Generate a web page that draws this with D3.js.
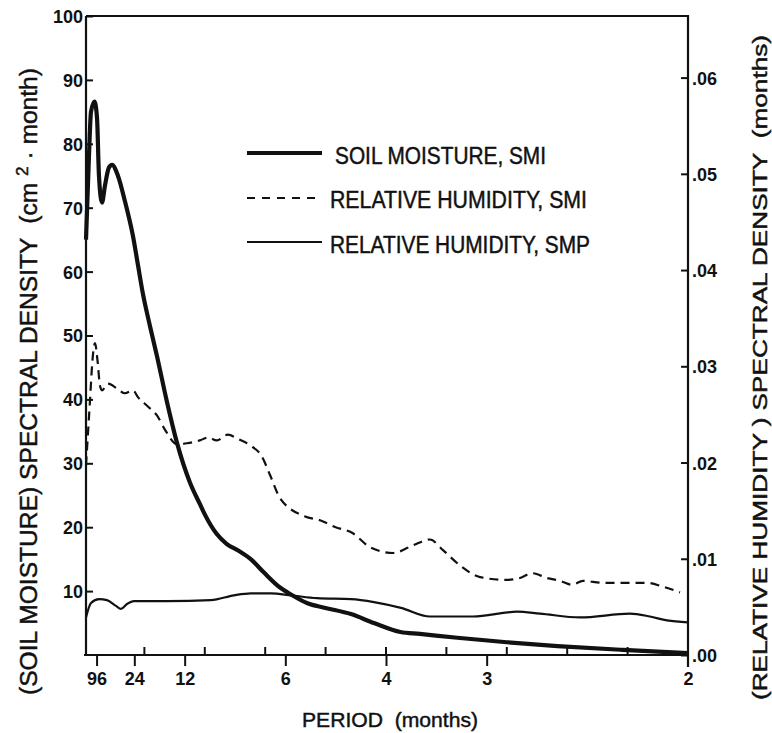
<!DOCTYPE html>
<html>
<head>
<meta charset="utf-8">
<script src="https://cdn.jsdelivr.net/npm/d3@7"></script>
<style>
  html, body { margin: 0; padding: 0; background: #ffffff; }
  svg { display: block; }
  text { fill: #111; font-family: "Liberation Sans", Arial, Helvetica, sans-serif; }
  .label { stroke: #111; stroke-width: 0.45px; }
</style>
</head>
<body>
<svg id="chart" width="772" height="733"></svg>
<script>
// Frequency axis (cycles per month) labelled by period in months
const periodTicks = [96, 24, 12, 6, 4, 3, 2];
const minorFreqTicks = [0.05, 0.10, 0.15, 0.20, 0.25, 0.30, 0.35, 0.40, 0.45];
const leftTicks = [10, 20, 30, 40, 50, 60, 70, 80, 90, 100];
const rightTicks = [0, 0.01, 0.02, 0.03, 0.04, 0.05, 0.06];

// Soil moisture spectral density, SMI (cm^2 · month)
const soilFreq = [0.00167, 0.0041, 0.0058, 0.0087, 0.0108, 0.0124, 0.0149, 0.0174, 0.0207, 0.0232,
  0.0281, 0.0339, 0.0406, 0.0447, 0.0488, 0.0546, 0.0604, 0.0687, 0.0770, 0.0877, 0.0960, 0.1000,
  0.1096, 0.1180, 0.1280, 0.1380, 0.1490, 0.1620, 0.1710, 0.1850, 0.1990, 0.2210, 0.2400, 0.2620,
  0.2780, 0.3090, 0.3500, 0.3920, 0.4460, 0.5000];
const soilDensity = [65, 78, 85, 86.6, 84, 75, 70.8, 73.5, 76.3, 76.7,
  75, 71.0, 65.5, 61.0, 56.5, 51.5, 46.8, 39.6, 33.2, 27, 23.6, 22.0,
  19.0, 17.4, 16.3, 15.0, 12.9, 10.6, 9.5, 8.1, 7.4, 6.4, 5.0, 3.6,
  3.3, 2.7, 2.0, 1.4, 0.8, 0.3];

// Relative humidity spectral density, SMI (months)
const rhSmiFreq = [0.00167, 0.0050, 0.0070, 0.0091, 0.0112, 0.0132, 0.0149, 0.0199, 0.0273, 0.0339,
  0.0406, 0.0447, 0.0522, 0.0604, 0.0671, 0.0770, 0.0853, 0.0960, 0.1026, 0.1100, 0.1192, 0.1267,
  0.1374, 0.1474, 0.1540, 0.1623, 0.1830, 0.1954, 0.2078, 0.2219, 0.2368, 0.2558, 0.2724, 0.2864,
  0.2972, 0.3113, 0.3278, 0.3500, 0.3609, 0.3709, 0.3833, 0.3940, 0.4040, 0.4131, 0.4296, 0.4462,
  0.4660, 0.4793, 0.4934];
const rhSmiDensity = [0.0197, 0.0265, 0.0306, 0.0324, 0.0306, 0.0280, 0.0275, 0.0282, 0.0277, 0.0272,
  0.0275, 0.0268, 0.0259, 0.0249, 0.0234, 0.0219, 0.0220, 0.0223, 0.0226, 0.0223, 0.0229, 0.0225,
  0.0218, 0.0206, 0.0187, 0.0163, 0.0144, 0.0140, 0.0133, 0.0127, 0.0112, 0.0106, 0.0114, 0.0120,
  0.0109, 0.0093, 0.0081, 0.0078, 0.0080, 0.0085, 0.0080, 0.0077, 0.0073, 0.0077, 0.0075, 0.0075,
  0.0075, 0.0071, 0.0065];

// Relative humidity spectral density, SMP (months)
const rhSmpFreq = [0.00167, 0.0058, 0.0124, 0.0190, 0.0265, 0.0306, 0.0356, 0.0414, 0.0687, 0.1051,
  0.1242, 0.1382, 0.1548, 0.1714, 0.1929, 0.2210, 0.2400, 0.2624, 0.2864, 0.3220, 0.3584, 0.3775,
  0.4106, 0.4520, 0.4685, 0.4826, 0.5000];
const rhSmpDensity = [0.0039, 0.0054, 0.0058, 0.0057, 0.0051, 0.0048, 0.0053, 0.0056, 0.0056, 0.0057,
  0.0062, 0.0064, 0.0064, 0.0062, 0.0059, 0.0058, 0.0055, 0.0049, 0.0040, 0.0040, 0.0045, 0.0043,
  0.0039, 0.0043, 0.0040, 0.0036, 0.0034];

const legendLabels = ["SOIL MOISTURE, SMI", "RELATIVE HUMIDITY, SMI", "RELATIVE HUMIDITY, SMP"];

const svg = d3.select("#chart");
const plotLeft = 86, plotRight = 688, plotTop = 16, plotBottom = 655;

const x = d3.scaleLinear().domain([1 / 600, 0.5]).range([plotLeft, plotRight]);
const yL = d3.scaleLinear().domain([0, 100]).range([plotBottom, plotTop]);
const yR = d3.scaleLinear().domain([0, 0.0664]).range([plotBottom, plotTop]);

const ink = "#111";
const nb = "\u00a0";

// frame: top border
svg.append("line").attr("x1", plotLeft).attr("x2", plotRight + 1).attr("y1", plotTop).attr("y2", plotTop)
  .attr("stroke", ink).attr("stroke-width", 2);

function styleTickText(g) {
  g.selectAll(".tick text").attr("font-size", 18).attr("font-weight", "bold").attr("fill", ink)
    .attr("font-family", null);
}

// left axis
const gL = svg.append("g").attr("transform", `translate(${plotLeft},0)`)
  .call(d3.axisLeft(yL).tickValues(leftTicks).tickSize(-7).tickPadding(3).tickFormat(d3.format("d")));
gL.select(".domain").attr("stroke", ink).attr("stroke-width", 2.2).attr("d", `M0,${plotTop}V${plotBottom}`);
gL.selectAll(".tick line").attr("stroke", ink).attr("stroke-width", 2);
styleTickText(gL);
gL.selectAll(".tick text").attr("dy", "0.36em");

// right axis
const gR = svg.append("g").attr("transform", `translate(${plotRight},0)`)
  .call(d3.axisRight(yR).tickValues(rightTicks).tickSize(-7).tickPadding(4)
    .tickFormat(d => d3.format(".2f")(d).replace(/^0/, "")));
gR.select(".domain").attr("stroke", ink).attr("stroke-width", 2.2).attr("d", `M0,${plotTop - 1}V${plotBottom + 12}`);
gR.selectAll(".tick line").attr("stroke", ink).attr("stroke-width", 2);
styleTickText(gR);
gR.selectAll(".tick text").attr("dy", "0.36em");

// bottom axis: period labels below, frequency minor ticks inside
const gB = svg.append("g").attr("transform", `translate(0,${plotBottom})`)
  .call(d3.axisBottom(x).tickValues(periodTicks.map(p => 1 / p)).tickSize(11).tickPadding(6)
    .tickFormat(f => d3.format("d")(Math.round(1 / f))));
gB.select(".domain").attr("stroke", ink).attr("stroke-width", 2.2).attr("d", `M${plotLeft - 2},0H${plotRight + 1}`);
gB.selectAll(".tick line").attr("stroke", ink).attr("stroke-width", 2);
styleTickText(gB);
gB.selectAll(".tick").filter(f => Math.abs(f - 0.5) < 1e-9).select("line").remove();

svg.append("g").selectAll("line").data(minorFreqTicks).join("line")
  .attr("x1", d => x(d)).attr("x2", d => x(d))
  .attr("y1", plotBottom).attr("y2", plotBottom - 8)
  .attr("stroke", ink).attr("stroke-width", 2);

// curves
const soilData = soilFreq.map((f, i) => [f, soilDensity[i]]);
const smiData = rhSmiFreq.map((f, i) => [f, rhSmiDensity[i]]);
const smpData = rhSmpFreq.map((f, i) => [f, rhSmpDensity[i]]);

const lineL = d3.line().x(d => x(d[0])).y(d => yL(d[1])).curve(d3.curveMonotoneX);
const lineR = d3.line().x(d => x(d[0])).y(d => yR(d[1])).curve(d3.curveMonotoneX);

svg.append("path").datum(smpData).attr("d", lineR)
  .attr("fill", "none").attr("stroke", ink).attr("stroke-width", 2.2);
svg.append("path").datum(smiData).attr("d", lineR)
  .attr("fill", "none").attr("stroke", ink).attr("stroke-width", 2.2).attr("stroke-dasharray", "9,6");
svg.append("path").datum(soilData).attr("d", lineL)
  .attr("fill", "none").attr("stroke", ink).attr("stroke-width", 4.2).attr("stroke-linejoin", "round");

// legend
const legend = [
  { y: 153, tx: 335, base: 164, w: 211, width: 4, dash: null },
  { y: 198, tx: 330, base: 208, w: 257, width: 2, dash: "8,7" },
  { y: 242, tx: 330, base: 253, w: 260, width: 2, dash: null }
];
legend.forEach((l, i) => {
  svg.append("line").attr("x1", 247).attr("x2", 322).attr("y1", l.y).attr("y2", l.y)
    .attr("stroke", ink).attr("stroke-width", l.width).attr("stroke-dasharray", l.dash);
  svg.append("text").attr("class", "label").attr("x", l.tx).attr("y", l.base).attr("font-size", 23)
    .attr("textLength", l.w).attr("lengthAdjust", "spacingAndGlyphs")
    .text(legendLabels[i]);
});

// axis titles
svg.append("text").attr("class", "label").attr("x", 302).attr("y", 727).attr("font-size", 21)
  .attr("textLength", 176).attr("lengthAdjust", "spacingAndGlyphs")
  .text(`PERIOD${nb} (months)`);

const lt = svg.append("text").attr("class", "label").attr("transform", "translate(37,695) rotate(-90)")
  .attr("font-size", 23).attr("textLength", 627).attr("lengthAdjust", "spacingAndGlyphs");
lt.append("tspan").text(`(SOIL MOISTURE) SPECTRAL DENSITY${nb} (cm${nb}`);
lt.append("tspan").attr("dy", -9).attr("font-size", 16).text("2");
lt.append("tspan").attr("dy", 9).text(`${nb}·${nb}month)`);

svg.append("text").attr("class", "label").attr("transform", "translate(767,700) rotate(-90)")
  .attr("font-size", 20).attr("textLength", 665).attr("lengthAdjust", "spacingAndGlyphs")
  .text(`(RELATIVE HUMIDITY ) SPECTRAL DENSITY${nb} (months)`);
</script>
</body>
</html>
